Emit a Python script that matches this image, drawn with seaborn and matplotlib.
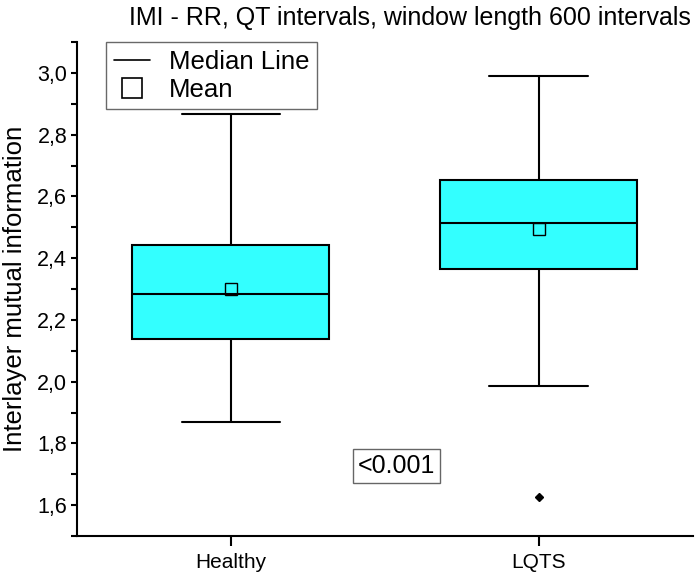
import numpy as np
import pandas as pd
import matplotlib
matplotlib.use("Agg")
import matplotlib.pyplot as plt
from matplotlib.lines import Line2D
from matplotlib.ticker import FuncFormatter, MultipleLocator
import seaborn as sns

# Data (five-number summaries, means, outliers)
groups = ["Healthy", "LQTS"]
whisker_low = [1.870, 1.985]
q1 = [2.137, 2.365]
median = [2.283, 2.514]
q3 = [2.443, 2.652]
whisker_high = [2.868, 2.989]
means = [2.299, 2.493]
outlier_group = ["LQTS"]
outlier_value = [1.628]
p_text = "<0.001"

rows = []
for g, a, b, c, d, e in zip(groups, whisker_low, q1, median, q3, whisker_high):
    for v in (a, b, c, d, e):
        rows.append({"group": g, "value": v})
df = pd.DataFrame(rows)

sns.set_theme(style="ticks")
plt.rcParams["font.family"] = ["Liberation Sans", "DejaVu Sans"]
plt.rcParams.update({"text.color": "black", "axes.labelcolor": "black",
                     "xtick.color": "black", "ytick.color": "black",
                     "axes.edgecolor": "black"})

fig = plt.figure(figsize=(6.99, 5.76), dpi=100)
ax = fig.add_axes([0.110, 0.0694, 0.881, 0.8576])

lw = 1.5
sns.boxplot(data=df, x="group", y="value", order=groups, ax=ax,
            whis=(0, 100), width=0.64, showfliers=False,
            color="#33FFFF", saturation=1, linewidth=lw, linecolor="black",
            medianprops=dict(color="black", linewidth=lw),
            boxprops=dict(facecolor="#33FFFF", edgecolor="black", linewidth=lw),
            whiskerprops=dict(color="black", linewidth=lw),
            capprops=dict(color="black", linewidth=lw))

xpos = {g: i for i, g in enumerate(groups)}
ax.plot([xpos[g] for g in groups], means, linestyle="none", marker="s",
        markersize=8, markerfacecolor="none", markeredgecolor="black",
        markeredgewidth=1.0)
ax.plot([xpos[g] for g in outlier_group], outlier_value, linestyle="none",
        marker="D", markersize=4.5, color="black")

ax.set_xlim(-0.5, 1.5)
ax.set_ylim(1.5, 3.1)
ax.yaxis.set_major_locator(MultipleLocator(0.2))
ax.yaxis.set_minor_locator(MultipleLocator(0.1))
ax.yaxis.set_major_formatter(FuncFormatter(lambda v, p: f"{v:.1f}".replace(".", ",")))
ax.tick_params(axis="y", which="both", direction="out", length=4, width=1.5,
               labelsize=15.5, pad=3, colors="black")
ax.tick_params(axis="x", direction="out", length=7, width=1.5, labelsize=15, pad=5,
               colors="black")
for s in ("left", "bottom"):
    ax.spines[s].set_linewidth(1.5)
    ax.spines[s].set_color("black")
ax.spines["top"].set_visible(False)
ax.spines["right"].set_visible(False)
ax.set_xlabel("")
ax.set_ylabel("Interlayer mutual information", fontsize=18.5, labelpad=7, color="black")

ax.text(0.537, 1.726, p_text, fontsize=18, ha="center", va="center", color="black",
        bbox=dict(boxstyle="square,pad=0.2", facecolor="white",
                  edgecolor="#666666", linewidth=1.0))

handles = [Line2D([0], [0], color="black", linewidth=1.2),
           Line2D([0], [0], linestyle="none", marker="s", markersize=15,
                  markerfacecolor="none", markeredgecolor="black", markeredgewidth=1.2)]
leg = ax.legend(handles, ["Median Line", "Mean"], loc="upper left",
                bbox_to_anchor=(0.047, 1.0), fontsize=18.5, frameon=True,
                fancybox=False, borderpad=0.3, labelspacing=0.15,
                handlelength=1.4, handletextpad=0.75, borderaxespad=0)
leg.get_frame().set_edgecolor("#444444")
leg.get_frame().set_linewidth(1.0)
for t in leg.get_texts():
    t.set_color("black")

fig.text(0.988, 0.968, "IMI - RR, QT intervals, window length 600 intervals",
         ha="right", va="center", fontsize=18, color="black")

fig.savefig("out.png", dpi=100)
